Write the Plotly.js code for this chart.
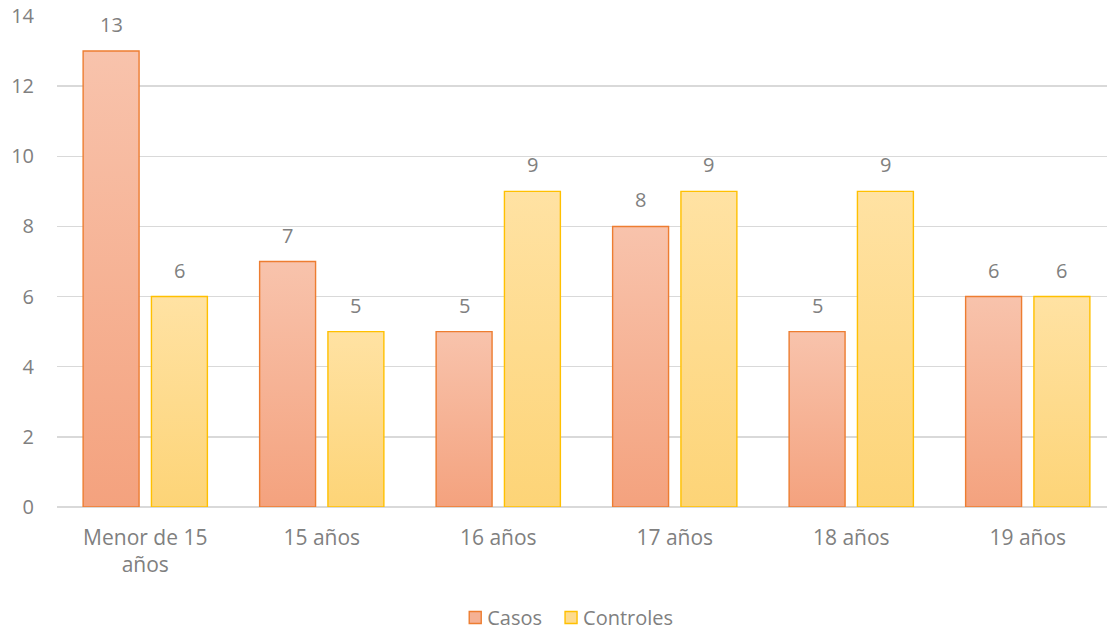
<!DOCTYPE html>
<html>
<head>
<meta charset="utf-8">
<script src="https://cdn.plot.ly/plotly-3.0.1.min.js"></script>
<style>
  html, body { margin: 0; padding: 0; overflow: hidden; background: #fff; }
  #chart { width: 1116px; height: 631px; }
</style>
</head>
<body>
<div id="chart"></div>
<script>
// Age groups and counts per group
const categories = ['Menor de 15<br>años', '15 años', '16 años', '17 años', '18 años', '19 años'];
const casos = [13, 7, 5, 8, 5, 6];
const controles = [6, 5, 9, 9, 9, 6];

const textColor = '#808080';
const fontFamily = '"Open Sans", "Noto Sans", sans-serif';

const barWidth = 0.317;
const casosOffset = -0.352;
const controlesOffset = 0.035;

const traces = [
  {
    type: 'bar', name: 'Casos', x: categories, y: casos,
    width: barWidth, offset: casosOffset,
    marker: { color: '#F5B194', line: { color: '#ED7D31', width: 1.4 } },
    hoverinfo: 'skip'
  },
  {
    type: 'bar', name: 'Controles', x: categories, y: controles,
    width: barWidth, offset: controlesOffset,
    marker: { color: '#FEDB8D', line: { color: '#FFC000', width: 1.4 } },
    hoverinfo: 'skip'
  }
];

// Value labels above each bar
const annotations = [];
categories.forEach((c, i) => {
  annotations.push({
    x: c, y: casos[i], xref: 'x', yref: 'y', text: String(casos[i]),
    showarrow: false, yanchor: 'bottom', yshift: 11,
    xshift: (casosOffset + barWidth / 2) * 176.5,
    font: { family: fontFamily, size: 20, color: textColor }
  });
  annotations.push({
    x: c, y: controles[i], xref: 'x', yref: 'y', text: String(controles[i]),
    showarrow: false, yanchor: 'bottom', yshift: 11,
    xshift: (controlesOffset + barWidth / 2) * 176.5,
    font: { family: fontFamily, size: 20, color: textColor }
  });
});

const layout = {
  width: 1116, height: 631,
  margin: { l: 57, r: 0, t: 16, b: 124, autoexpand: false },
  paper_bgcolor: '#fff', plot_bgcolor: '#fff',
  barmode: 'group',
  showlegend: true,
  legend: {
    orientation: 'h', x: 0.487, xanchor: 'center', y: -0.225, yanchor: 'middle',
    font: { family: fontFamily, size: 20, color: textColor },
    itemwidth: 30
  },
  xaxis: {
    type: 'category',
    tickfont: { family: fontFamily, size: 21, color: textColor },
    showgrid: false, zeroline: false, showline: false, ticks: '',
    ticklabelstandoff: 16
  },
  yaxis: {
    range: [0, 14], dtick: 2, tick0: 0,
    tickfont: { family: fontFamily, size: 20, color: textColor },
    gridcolor: '#D9D9D9', gridwidth: 1.3,
    zeroline: true, zerolinecolor: '#D9D9D9', zerolinewidth: 1.3,
    showline: false, ticks: '', ticklabelstandoff: 22
  },
  annotations: annotations,
  font: { family: fontFamily, color: textColor }
};

function addGradients(gd) {
  const svg = gd.querySelector('svg.main-svg');
  if (!svg) return;
  const ns = 'http://www.w3.org/2000/svg';
  let defs = svg.querySelector('defs');
  if (!defs) { defs = document.createElementNS(ns, 'defs'); svg.insertBefore(defs, svg.firstChild); }
  const stops = {
    gradCasos: ['#F8C3AC', '#F4A27E'],
    gradControles: ['#FFE2A3', '#FDD477']
  };
  Object.keys(stops).forEach(id => {
    const g = document.createElementNS(ns, 'linearGradient');
    g.setAttribute('id', id);
    g.setAttribute('x1', '0'); g.setAttribute('y1', '0');
    g.setAttribute('x2', '0'); g.setAttribute('y2', '1');
    stops[id].forEach((col, k) => {
      const s = document.createElementNS(ns, 'stop');
      s.setAttribute('offset', k ? '1' : '0');
      s.setAttribute('stop-color', col);
      g.appendChild(s);
    });
    defs.appendChild(g);
  });
  const traceGroups = gd.querySelectorAll('.cartesianlayer .trace.bars');
  traceGroups.forEach((tg, i) => {
    const id = i === 0 ? 'gradCasos' : 'gradControles';
    tg.querySelectorAll('.point path').forEach(p => { p.style.fill = 'url(#' + id + ')'; });
  });
  // tighten the gap between legend swatch and its label
  gd.querySelectorAll('.legend .legendtext').forEach(t => {
    const x = parseFloat(t.getAttribute('x') || '40');
    t.setAttribute('x', x - 8);
  });
  // pull the second legend entry slightly closer to the first
  const items = gd.querySelectorAll('.legend .traces');
  if (items.length > 1) {
    const tr = items[1].getAttribute('transform') || '';
    const m = tr.match(/translate\(\s*([-\d.]+)[ ,]+([-\d.]+)\s*\)/);
    if (m) items[1].setAttribute('transform', 'translate(' + (parseFloat(m[1]) - 4) + ',' + m[2] + ')');
  }
}

Plotly.newPlot('chart', traces, layout, { displayModeBar: false, staticPlot: true })
  .then(addGradients);
</script>
</body>
</html>
